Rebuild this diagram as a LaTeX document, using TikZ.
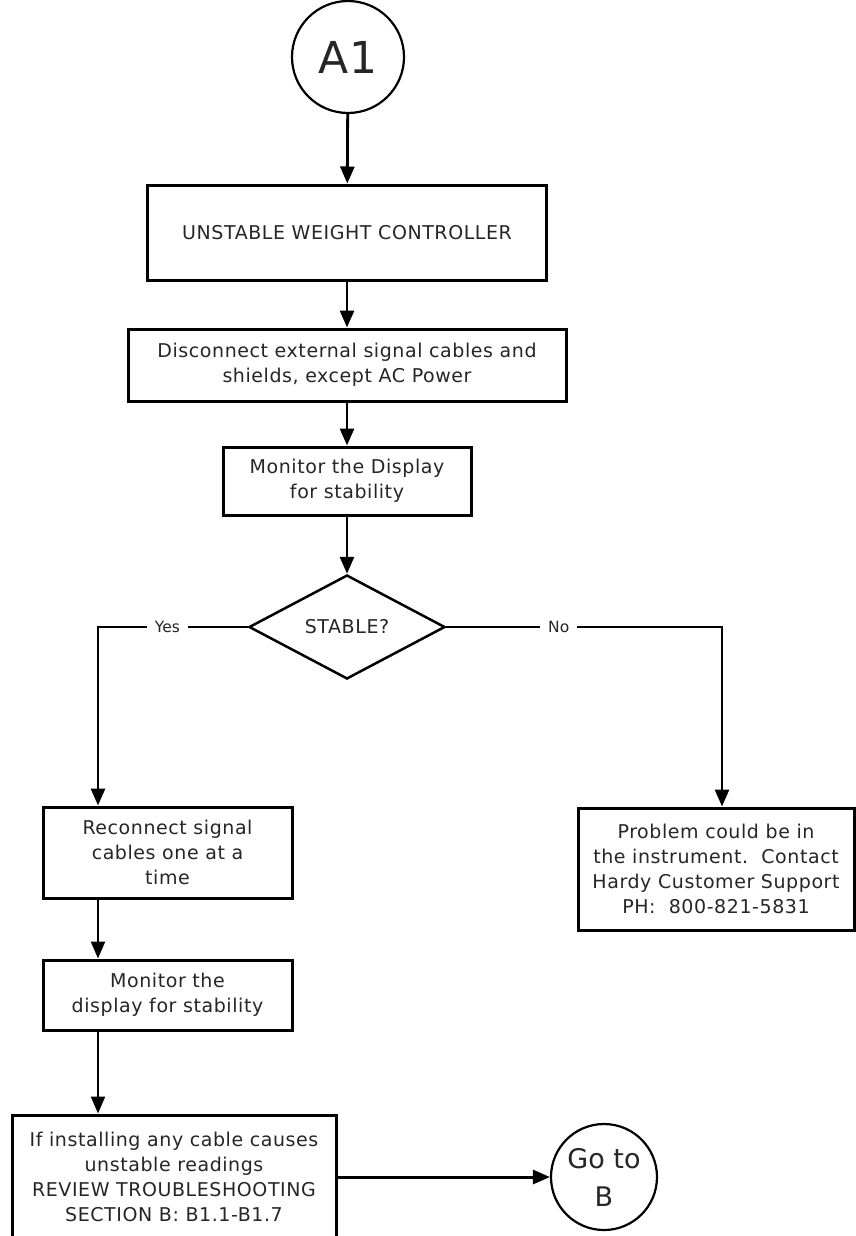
\documentclass[tikz,border=0pt]{standalone}
\usepackage{fontspec}
\newfontfamily\dv[LetterSpace=3]{DejaVu Sans}
\newfontfamily\dvn{DejaVu Sans}
\usetikzlibrary{arrows.meta,shapes.geometric,calc}
\begin{document}
\begin{tikzpicture}[x=1pt,y=-1pt,
  txt/.style={font=\dv\fontsize{19}{25}\selectfont, text=black!85, align=center},
  box/.style={txt, draw, line width=3pt, inner sep=0pt},
  term/.style={draw, circle, line width=2.2pt, inner sep=0pt, text=black!85, align=center},
  conn/.style={line width=2.8pt, -{Triangle[length=17pt,width=14pt]}},
  lbl/.style={font=\dvn\fontsize{15.5}{18}\selectfont, text=black!85, fill=white, inner xsep=8pt, inner ysep=2pt}
]
\useasboundingbox (0,0) rectangle (856,1236);
\clip (0,0) rectangle (856,1236);
\fill[white] (0,0) rectangle (856,1236);

\node[term, minimum size=112pt, font=\dvn\fontsize{44}{48}\selectfont] (a1) at (348,57) {A1};
\node[box, minimum width=399pt, minimum height=95pt] (n1) at (347,232.5) {UNSTABLE WEIGHT CONTROLLER};
\node[box, minimum width=438pt, minimum height=72pt] (n2) at (347,365) {Disconnect external signal cables and\\shields, except AC Power};
\node[box, minimum width=248pt, minimum height=68pt] (n3) at (347,481) {Monitor the Display\\for stability};
\node[txt, draw, shape=diamond, line width=2.5pt, inner sep=0pt, aspect=1.885, minimum width=196pt, minimum height=104pt] (d) at (347,627) {STABLE?};
\node[box, minimum width=249pt, minimum height=91pt] (n4) at (167.5,852.5) {Reconnect signal\\cables one at a\\time};
\node[box, minimum width=276pt, minimum height=122pt] (n5) at (716,869) {Problem could be in\\the instrument.\ \ Contact\\Hardy Customer Support\\PH:\ \ 800-821-5831};
\node[box, minimum width=249pt, minimum height=70pt] (n6) at (167.5,995) {Monitor the\\display for stability};
\node[box, minimum width=324pt, minimum height=124pt] (n7) at (174,1177) {If installing any cable causes\\unstable readings\\REVIEW TROUBLESHOOTING\\SECTION B: B1.1-B1.7};
\node[term, minimum size=106pt, font=\dvn\fontsize{27}{38}\selectfont] (gob) at (604,1177) {Go to\\B};

\coordinate (yt) at (98,627);
\coordinate (nt) at (722,627);

\draw[conn] (a1) -- (n1);
\draw[conn] (n1) -- (n2);
\draw[conn] (n2) -- (n3);
\draw[conn] (n3) -- (d);
\draw[conn] (d.west) -- node[lbl, pos=0.536]{Yes} (yt) -- (yt |- n4.north);
\draw[conn] (d.east) -- node[lbl, pos=0.408]{No} (nt) -- (nt |- n5.north);
\draw[conn, line width=2.4pt] (yt |- n4.south) -- (yt |- n6.north);
\draw[conn, line width=2.4pt] (yt |- n6.south) -- (yt |- n7.north);
\draw[conn, line width=3pt] (n7.east) -- (gob.west);
\end{tikzpicture}
\end{document}
